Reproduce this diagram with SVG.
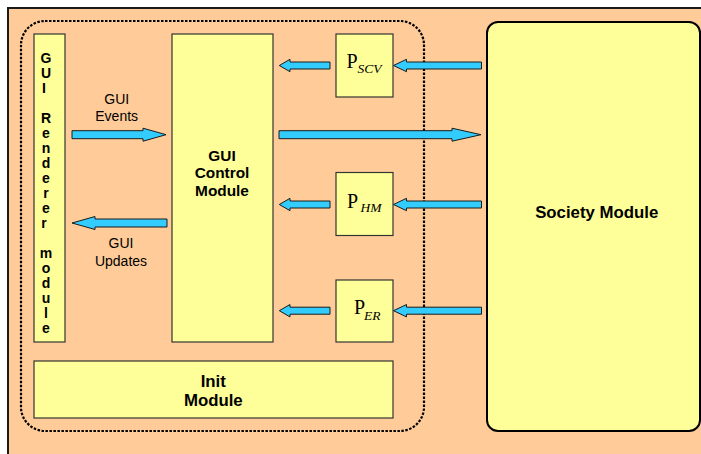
<svg xmlns="http://www.w3.org/2000/svg" width="701" height="454" viewBox="0 0 701 454">
<style>
.box{fill:#FFFF99;stroke:#333;stroke-width:1.2}
.arr{fill:#33CCFF;stroke:#1a1a1a;stroke-width:1;stroke-linejoin:miter}
.b{font-family:"Liberation Sans",Arial,sans-serif;font-weight:bold;fill:#000;text-anchor:middle}
.n{font-family:"Liberation Sans",Arial,sans-serif;fill:#000;text-anchor:middle;font-size:14px}
.p{font-family:"Liberation Serif","Times New Roman",serif;fill:#000}
</style>
<rect x="0" y="0" width="701" height="454" fill="#FFFFFF"/>
<rect id="background" x="8" y="8" width="720" height="470" fill="#FFCC99" stroke="#1a1a1a" stroke-width="2"/>
<rect id="boundary" x="21" y="21" width="403" height="410" rx="24" ry="24" fill="none" stroke="#000" stroke-width="2.2" stroke-dasharray="2.5 1.5"/>

<g id="gui-renderer">
<rect class="box" x="34" y="34" width="31" height="308"/>
<text class="b" font-size="14">
<tspan x="46" y="63">G</tspan><tspan x="46" y="78">U</tspan><tspan x="46" y="93">I</tspan>
<tspan x="46" y="123">R</tspan><tspan x="46" y="138">e</tspan><tspan x="46" y="153">n</tspan><tspan x="46" y="168">d</tspan><tspan x="46" y="183">e</tspan><tspan x="46" y="198">r</tspan><tspan x="46" y="213">e</tspan><tspan x="46" y="228">r</tspan>
<tspan x="46" y="258">m</tspan><tspan x="46" y="273">o</tspan><tspan x="46" y="288">d</tspan><tspan x="46" y="303">u</tspan><tspan x="46" y="318">l</tspan><tspan x="46" y="333">e</tspan>
</text>
</g>

<g id="gui-control">
<rect class="box" x="172" y="34" width="101" height="308"/>
<text class="b" font-size="15.4"><tspan x="222" y="161">GUI</tspan><tspan x="222" y="178.3">Control</tspan><tspan x="222" y="195.6">Module</tspan></text>
</g>

<g id="init-module">
<rect class="box" x="34" y="361" width="359" height="57"/>
<text class="b" font-size="16.8"><tspan x="213.3" y="386.7">Init</tspan><tspan x="213.3" y="405.7">Module</tspan></text>
</g>

<g id="p-scv">
<rect class="box" x="336" y="34" width="57" height="63"/>
<text class="p"><tspan x="346.5" y="67.5" font-size="20">P</tspan><tspan x="357.5" y="73" font-size="13.5" font-style="italic">SCV</tspan></text>
</g>

<g id="p-hm">
<rect class="box" x="336" y="172.5" width="57" height="63"/>
<text class="p"><tspan x="347" y="207.5" font-size="20">P</tspan><tspan x="360.5" y="212" font-size="13.5" font-style="italic">HM</tspan></text>
</g>

<g id="p-er">
<rect class="box" x="336" y="280" width="57" height="62"/>
<text class="p"><tspan x="354" y="314" font-size="20">P</tspan><tspan x="364" y="320" font-size="13.5" font-style="italic">ER</tspan></text>
</g>

<g id="society-module">
<rect x="487" y="22" width="213" height="409" rx="11" ry="11" fill="#FFFF99" stroke="#000" stroke-width="2"/>
<text class="b" font-size="16.8" x="596.7" y="218">Society Module</text>
</g>

<g id="connectors">
<polygon class="arr" points="72,130.7 143,130.7 143,128.2 166,134.7 143,141.2 143,138.7 72,138.7"/>
<polygon class="arr" points="72,223 95,216.5 95,219 167,219 167,227 95,227 95,229.5"/>
<polygon class="arr" points="279,130.7 452,130.7 452,128.2 481,134.7 452,141.2 452,138.7 279,138.7"/>
<polygon class="arr" points="279.3,65.5 290,59.3 290,62 330,62 330,69 290,69 290,71.7"/>
<polygon class="arr" points="393.5,65.5 406.5,59.3 406.5,62 481.5,62 481.5,69 406.5,69 406.5,71.7"/>
<polygon class="arr" points="279.3,204.5 290,198.3 290,201 330,201 330,208 290,208 290,210.7"/>
<polygon class="arr" points="393.5,204.5 406.5,198.3 406.5,201 481.5,201 481.5,208 406.5,208 406.5,210.7"/>
<polygon class="arr" points="279.3,310.7 290,304.5 290,307.2 330,307.2 330,314.2 290,314.2 290,316.9"/>
<polygon class="arr" points="393.5,310.7 406.5,304.5 406.5,307.2 481.5,307.2 481.5,314.2 406.5,314.2 406.5,316.9"/>
</g>

<g id="labels">
<text class="n"><tspan x="116.7" y="104">GUI</tspan><tspan x="116.7" y="120.7">Events</tspan></text>
<text class="n"><tspan x="121" y="248.3">GUI</tspan><tspan x="121" y="266">Updates</tspan></text>
</g>
</svg>
